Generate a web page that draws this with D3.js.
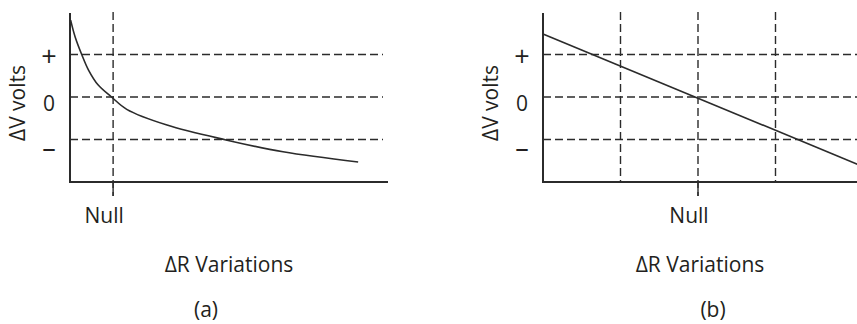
<!DOCTYPE html>
<html>
<head>
<meta charset="utf-8">
<script src="https://cdn.jsdelivr.net/npm/d3@7"></script>
<style>
  html, body { margin: 0; padding: 0; background: #fff; }
  svg { display: block; }
  text { font-family: "Open Sans", sans-serif; fill: #231f20; }
</style>
</head>
<body>
<svg id="chart" width="857" height="324"></svg>
<script>
// ---- data ----
const yTickValues = [1, 0, -1];
const yTickLabels = ["+", "0", "–"];
const yAxisTitle = "ΔV volts";
const xAxisTitle = "ΔR Variations";
const nullLabel = "Null";
const panelLabels = ["(a)", "(b)"];

// panel (a): nonlinear bridge response
const curveAX = [0.2, 1.6, 3.7, 5.8, 8.9, 13.1, 17.9, 30.6, 49.2, 67.2, 90.9];
const curveAY = [1.81, 1.42, 1.00, 0.64, 0.28, 0, -0.29, -0.66, -1.01, -1.29, -1.53];
const nullA = 13.6;

// panel (b): linear bridge response
const lineBX = [0, 101.4];
const lineBY = [1.48, -1.58];
const gridBX = [25, 50, 75];
const nullB = 50;

// ---- drawing ----
const svg = d3.select("#chart");
const ink = "#2b2b2b";
const yDomain = [-2, 2];

function panel(opts) {
  const g = svg.append("g");
  const x = d3.scaleLinear().domain([0, 100]).range(opts.xRange);
  const y = d3.scaleLinear().domain(yDomain).range([182, 12]);
  const x0 = opts.xRange[0];

  // horizontal dashed grid
  g.selectAll("line.h").data(yTickValues).join("line")
    .attr("x1", x0).attr("x2", opts.gridEnd)
    .attr("y1", d => y(d)).attr("y2", d => y(d))
    .attr("stroke", ink).attr("stroke-width", 1.4)
    .attr("stroke-dasharray", "8,4");

  // vertical dashed grid
  g.selectAll("line.v").data(opts.gridX).join("line")
    .attr("x1", d => x(d)).attr("x2", d => x(d))
    .attr("y1", 12).attr("y2", d => d === opts.nullX ? 196 : 182)
    .attr("stroke", ink).attr("stroke-width", 1.4)
    .attr("stroke-dasharray", "8,4");

  // solid tick at null below axis
  g.append("line")
    .attr("x1", x(opts.nullX)).attr("x2", x(opts.nullX))
    .attr("y1", 182).attr("y2", 196)
    .attr("stroke", ink).attr("stroke-width", 1.4);

  // axes
  g.append("path")
    .attr("d", d3.line()([[x0, 13], [x0, 182], [opts.axisEnd, 182]]))
    .attr("fill", "none").attr("stroke", ink).attr("stroke-width", 2);

  // data curve
  const pts = opts.xs.map((v, i) => [v, opts.ys[i]]);
  g.append("path")
    .datum(pts)
    .attr("d", d3.line().x(d => x(d[0])).y(d => y(d[1])).curve(d3.curveCatmullRom.alpha(0.5)))
    .attr("fill", "none").attr("stroke", ink).attr("stroke-width", 1.6);

  // y tick labels
  const dys = [1, 5.5, 6.5];
  g.selectAll("text.yt").data(yTickValues).join("text")
    .attr("x", x0 - 21).attr("y", (d, i) => y(d) + dys[i])
    .attr("text-anchor", "middle").attr("dominant-baseline", "central")
    .attr("font-size", (d, i) => yTickLabels[i] === "0" ? 21 : 27)
    .text((d, i) => yTickLabels[i]);

  // y axis title
  g.append("text")
    .attr("transform", `translate(${x0 - 45},103) rotate(-90)`)
    .attr("text-anchor", "middle")
    .attr("font-size", 21)
    .text(yAxisTitle);

  // Null label
  g.append("text")
    .attr("x", x(opts.nullX) - 9).attr("y", 223)
    .attr("text-anchor", "middle").attr("font-size", 21)
    .text(nullLabel);

  // x axis title
  g.append("text")
    .attr("x", opts.titleX).attr("y", 272)
    .attr("text-anchor", "middle").attr("font-size", 21)
    .text(xAxisTitle);

  // panel label
  g.append("text")
    .attr("x", opts.panelX).attr("y", 317)
    .attr("text-anchor", "middle").attr("font-size", 21)
    .text(opts.panelLabel);
}

panel({
  xRange: [70, 387], gridEnd: 383, axisEnd: 388,
  gridX: [nullA], nullX: nullA,
  xs: curveAX, ys: curveAY,
  titleX: 229, panelX: 206, panelLabel: panelLabels[0]
});

panel({
  xRange: [543, 853], gridEnd: 857, axisEnd: 857,
  gridX: gridBX, nullX: nullB,
  xs: lineBX, ys: lineBY,
  titleX: 700, panelX: 713, panelLabel: panelLabels[1]
});
</script>
</body>
</html>
